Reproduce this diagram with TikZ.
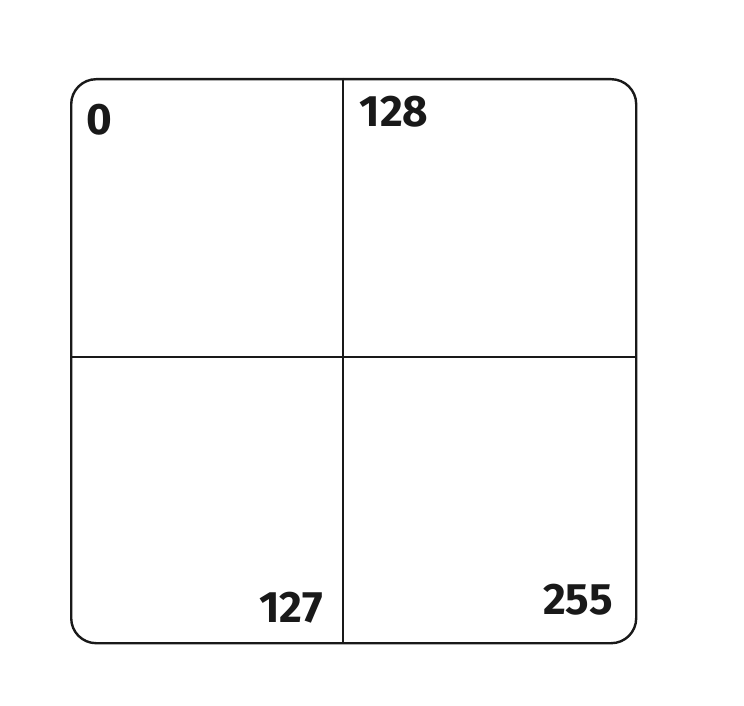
\documentclass[tikz,border=0pt]{standalone}
\usepackage{fontspec}
\setmainfont{Fira Sans}
\begin{document}
\begin{tikzpicture}[x=1pt,y=-1pt,
  frame/.style={draw=black!90,line width=2.4pt,rounded corners=25pt},
  divider/.style={draw=black!90,line width=2.4pt},
  num/.style={font=\fontsize{44}{44}\selectfont\bfseries,text=black!90,inner sep=0pt}]
\useasboundingbox[fill=white] (0,0) rectangle (744,706);
\node[frame,minimum width=565pt,minimum height=564pt,inner sep=0pt,anchor=north west] (box) at (70,78) {};
\coordinate (vt) at (343,78);
\coordinate (vb) at (343,643);
\coordinate (hl) at (70,357);
\coordinate (hr) at (636,357);
\draw[divider] (vt) -- (vb);
\draw[divider] (hl) -- (hr);
\node[num] (n0) at (99,120) {0};
\node[num] (n128) at (394,112) {128};
\node[num] (n127) at (291,608) {127};
\node[num] (n255) at (578,600) {255};
\end{tikzpicture}
\end{document}
